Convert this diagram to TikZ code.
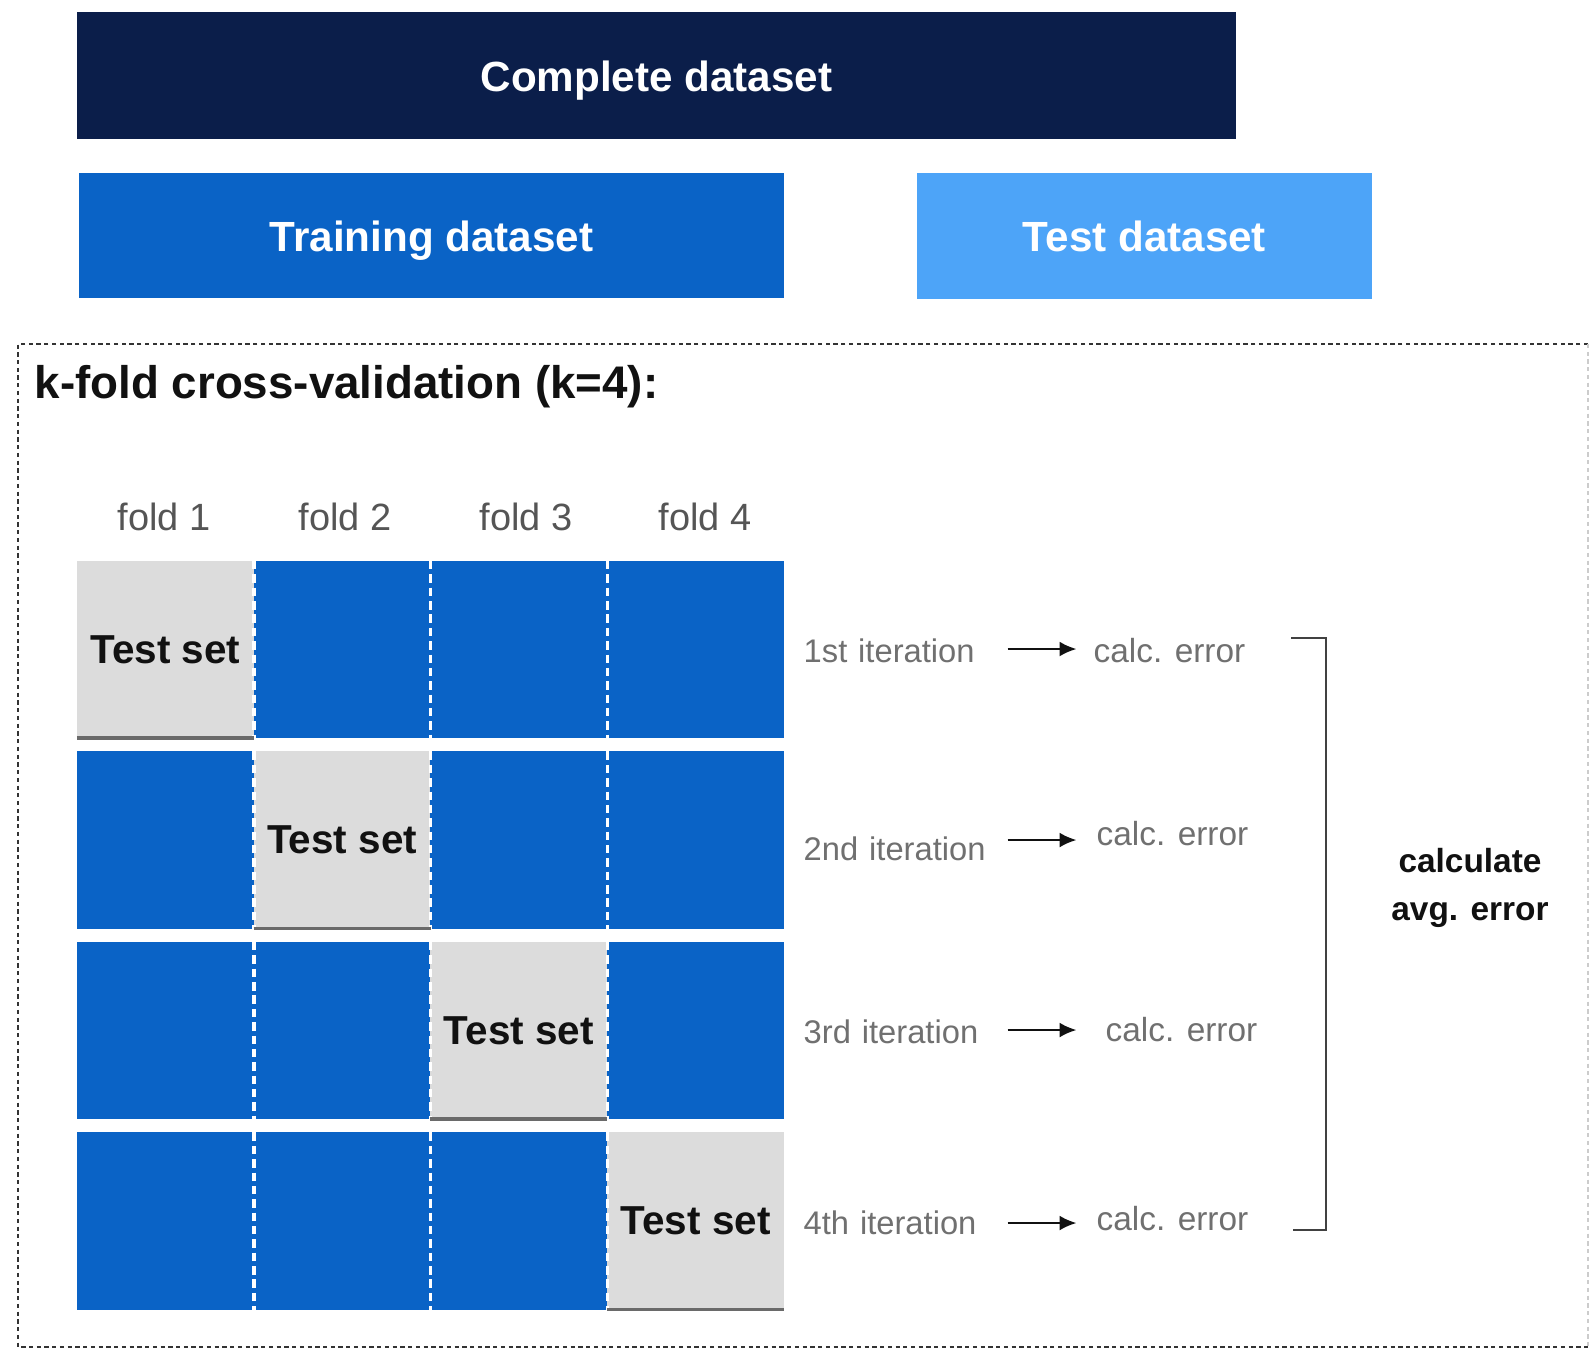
\documentclass[tikz,border=0pt]{standalone}
\usepackage{fontspec}
\setmainfont{Liberation Sans}
\usetikzlibrary{arrows.meta,positioning,calc}
\definecolor{paper}{HTML}{FFFFFF}
\definecolor{navy}{HTML}{0B1E4A}
\definecolor{trainblue}{HTML}{0A63C6}
\definecolor{testblue}{HTML}{4DA4F8}
\definecolor{cellgray}{HTML}{DCDCDC}
\definecolor{celledge}{HTML}{6A6A6A}
\definecolor{ink}{HTML}{111111}
\definecolor{muted}{HTML}{707070}
\definecolor{foldgray}{HTML}{555555}
\definecolor{framegray}{HTML}{333333}
\newcommand{\GridX}{77}
\newcommand{\GridY}{561}
\newcommand{\CellW}{176.75}
\newcommand{\CellH}{177}
\newcommand{\RowGap}{190.5}
\newcommand{\CellWcm}{1.7675cm}
\newcommand{\CellHcm}{1.77cm}
\newcommand{\ArrowLen}{69}

\begin{document}
\begin{tikzpicture}[
    x=0.01cm, y=-0.01cm, ink,
    databox/.style={inner sep=0pt, outer sep=0pt, text=white, text height=0.9em, text depth=0pt, font=\fontsize{12}{14}\selectfont\bfseries},
    traincell/.style={fill=trainblue, inner sep=0pt, outer sep=0pt, minimum width=\CellWcm, minimum height=\CellHcm},
    testcell/.style={traincell, fill=cellgray, text=ink, font=\fontsize{11.5}{13}\selectfont\bfseries},
    foldline/.style={draw=white, line width=1pt, dash pattern=on 2.4pt off 1.4pt},
    cellshadow/.style={draw=celledge, line width=0.9pt},
    foldlabel/.style={text=foldgray, font=\fontsize{10.8}{13}\selectfont},
    iterlabel/.style={anchor=west, inner sep=0pt, text width=2.03cm, align=left, text=muted, font=\fontsize{9.3}{11}\selectfont},
    errlabel/.style={anchor=west, inner sep=0pt, text=muted, font=\fontsize{9.5}{11}\selectfont},
    arr/.style={-{Latex[length=1.7mm, width=1.5mm]}, line width=0.7pt, draw=ink},
    bracket/.style={draw=ink!80, line width=0.7pt},
    frame/.style={draw=framegray, line width=0.6pt, dash pattern=on 1.2pt off 1pt},
  ]
\useasboundingbox[fill=paper] (0,0) rectangle (1594,1350);

% --- The split of the data ----------------------------------------------------------
\node[databox, fill=navy, minimum width=11.59cm, minimum height=1.27cm] (complete) at (656.5,75.5) {Complete dataset};
\node[databox, fill=trainblue, minimum width=7.05cm, minimum height=1.25cm] (train) at (431.5,235.5) {Training dataset};
\node[databox, fill=testblue, minimum width=4.55cm, minimum height=1.26cm] (test) at (1144.5,236) {Test dataset};

% --- The cross-validation frame -----------------------------------------------------
\draw[frame] (1588,344) -- (18,344) -- (18,1347) -- (1588,1347);
\draw[frame, draw=framegray!25] (1588,344) -- (1588,1347);
\node[anchor=west, inner sep=0pt, font=\fontsize{13}{15}\selectfont\bfseries] (title) at (34,387) {k-fold cross-validation (k=4):};

\foreach \c/\fx in {1/164, 2/345, 3/526, 4/705} {
  \node[foldlabel] (fold\c) at (\fx,517) {fold \c};
}

% --- One row per iteration, the test fold on the diagonal ---------------------------
\foreach \r in {1,...,4} {
  \foreach \c in {1,...,4} {
    \ifnum\r=\c \def\cellstyle{testcell}\def\celltext{Test set}\else \def\cellstyle{traincell}\def\celltext{}\fi
    \node[\cellstyle] (c\r\c) at ({\GridX+(\c-0.5)*\CellW}, {\GridY+(\r-1)*\RowGap+0.5*\CellH}) {\celltext};
  }
  \foreach \c in {1,2,3} {
    \draw[foldline] (c\r\c.north east) -- (c\r\c.south east);
  }
  \draw[cellshadow] (c\r\r.south west) -- (c\r\r.south east);
}

% --- Each iteration gives an error ------------------------------------------------------
\foreach \r/\lab/\ly/\ay/\ex/\ey in {1/1st/651/649/1093/651,
                                     2/2nd/849/840/1096/834,
                                     3/3rd/1032/1030/1105/1030,
                                     4/4th/1223/1223/1096/1219} {
  \node[iterlabel] (it\r) at (803,\ly) {\lab\ iteration};
  \node[errlabel] (err\r) at (\ex,\ey) {calc. error};
  \draw[arr] (it\r.east |- 0,\ay) -- ++(\ArrowLen,0);
}

\draw[bracket] (1291,638) -- (1326,638) -- (1326,1230) -- (1293,1230);
\node[align=center, font=\fontsize{9.5}{13.5}\selectfont\bfseries] (avg) at (1470,888) {calculate\\avg. error};

\end{tikzpicture}
\end{document}
